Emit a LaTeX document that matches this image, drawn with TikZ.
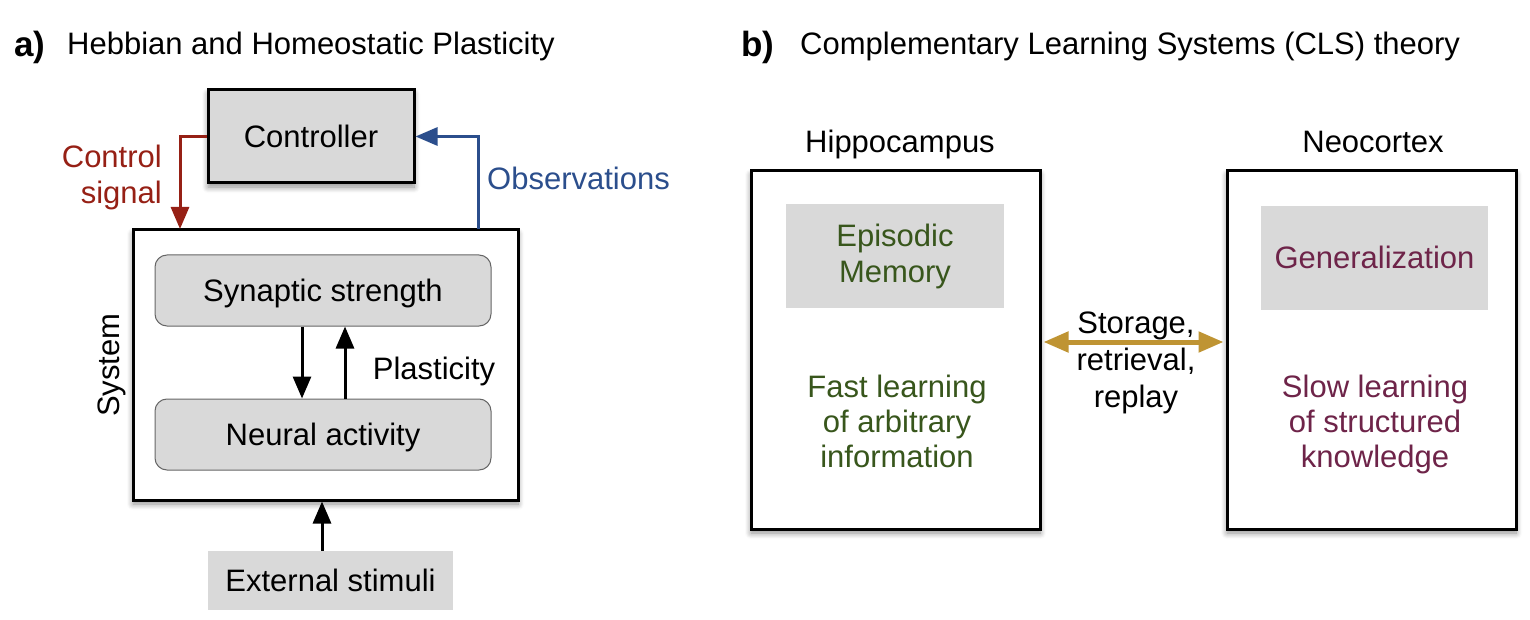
\documentclass[tikz,border=0pt]{standalone}
\usepackage{fontspec}
\setmainfont{Liberation Sans}
\usetikzlibrary{arrows.meta,shadows.blur}
\definecolor{boxgray}{HTML}{D9D9D9}
\definecolor{ctlred}{HTML}{962015}
\definecolor{obsblue}{HTML}{2B4E8C}
\definecolor{gold}{HTML}{BF9433}
\definecolor{hipgreen}{HTML}{38561C}
\definecolor{neomaroon}{HTML}{6E2449}
\tikzset{
  txt/.style={font=\fontsize{31}{36}\selectfont, inner sep=0pt},
  shad/.style={blur shadow={shadow xshift=0pt, shadow yshift=-4pt, shadow blur radius=6pt, shadow blur steps=8, shadow opacity=45}},
  bigbox/.style={draw=black, line width=3pt, fill=white, shad, inner sep=0pt, anchor=center},
  graybox/.style={draw=black, line width=3pt, fill=boxgray, shad, txt, text height=22pt, text depth=0pt, anchor=center},
  roundbox/.style={draw=gray!80!black, line width=1pt, fill=boxgray, rounded corners=12pt, txt, text height=22pt, text depth=0pt, anchor=center},
  flatbox/.style={fill=boxgray, txt, anchor=center},
  arr/.style={line width=3pt, -{Triangle[width=18pt,length=22pt]}},
}
\begin{document}
\begin{tikzpicture}[x=1pt,y=-1pt]
\useasboundingbox (0,0) rectangle (1530,620);
% titles
\node[txt, anchor=base west, font=\fontsize{35}{40}\selectfont\bfseries] (ta) at (14,57) {a)};
\node[txt, anchor=base west] (tat) at (67,55) {Hebbian and Homeostatic Plasticity};
\node[txt, anchor=base west, font=\fontsize{35}{40}\selectfont\bfseries] (tb) at (741,57) {b)};
\node[txt, anchor=base west] (tbt) at (800,55) {Complementary Learning Systems (CLS) theory};

% panel a
\node[graybox, minimum width=206pt, minimum height=93pt] (ctrl) at (311,136.5) {Controller};
\node[bigbox, minimum width=385pt, minimum height=270pt] (sys) at (325.5,365) {};
\node[roundbox, minimum width=336pt, minimum height=71pt] (syn) at (323,290.5) {Synaptic strength};
\node[roundbox, minimum width=336pt, minimum height=71pt] (neu) at (323,434.5) {Neural activity};
\node[flatbox, minimum width=245pt, minimum height=59pt, text height=22pt, text depth=0pt] (ext) at (330.5,580.5) {External stimuli};
\node[txt, rotate=90, text height=22pt, text depth=0pt] (syslbl) at (108,365) {System};
\node[txt, anchor=base] (plas) at (434,379) {Plasticity};

\draw[arr] ([xshift=-21pt]syn.south) -- ([xshift=-21pt]neu.north);
\draw[arr] ([xshift=22pt]neu.north) -- ([xshift=22pt]syn.south);
\draw[arr] ([xshift=-8.5pt]ext.north) -- ([xshift=-8.5pt]ext.north |- sys.south);

\coordinate (cstip) at (180,229);
\draw[arr, draw=ctlred, -{Triangle[width=18pt,length=22pt,fill=ctlred]}] (ctrl.west) -| (cstip);
\node[txt, text=ctlred, align=right, anchor=east] (cslbl) at (162,177) {Control\\signal};

\coordinate (obs) at (478,229);
\draw[arr, draw=obsblue, -{Triangle[width=18pt,length=22pt,fill=obsblue]}] (obs) |- (ctrl.east);
\node[txt, text=obsblue, anchor=base west] (obslbl) at (487,190) {Observations};

% panel b
\node[txt, anchor=base] (hiplbl) at (900,153) {Hippocampus};
\node[bigbox, minimum width=289pt, minimum height=358pt] (hip) at (895.5,350) {};
\node[flatbox, minimum width=218pt, minimum height=104pt, text=hipgreen, align=center] (epi) at (895,256) {Episodic\\Memory};
\node[txt, font=\fontsize{31}{35}\selectfont, text=hipgreen, align=center] (fast) at (897,421) {Fast learning\\of arbitrary\\information};

\node[txt, anchor=base] (neolbl) at (1373,153) {Neocortex};
\node[bigbox, minimum width=289pt, minimum height=358pt] (neo) at (1371.5,350) {};
\node[flatbox, minimum width=227pt, minimum height=104pt, text=neomaroon, text height=22pt, text depth=0pt] (gen) at (1374.5,258) {Generalization};
\node[txt, font=\fontsize{31}{35}\selectfont, text=neomaroon, align=center] (slow) at (1375,424) {Slow learning\\of structured\\knowledge};

\draw[line width=5pt, draw=gold, {Triangle[width=20pt,length=25pt,fill=gold]}-{Triangle[width=20pt,length=25pt,fill=gold]}] ([yshift=8pt,xshift=2pt]hip.east) -- ([yshift=8pt,xshift=-2pt]neo.west);
\node[txt, font=\fontsize{31}{37}\selectfont, align=center] (stor) at (1136,363) {Storage,\\retrieval,\\replay};
\end{tikzpicture}
\end{document}
